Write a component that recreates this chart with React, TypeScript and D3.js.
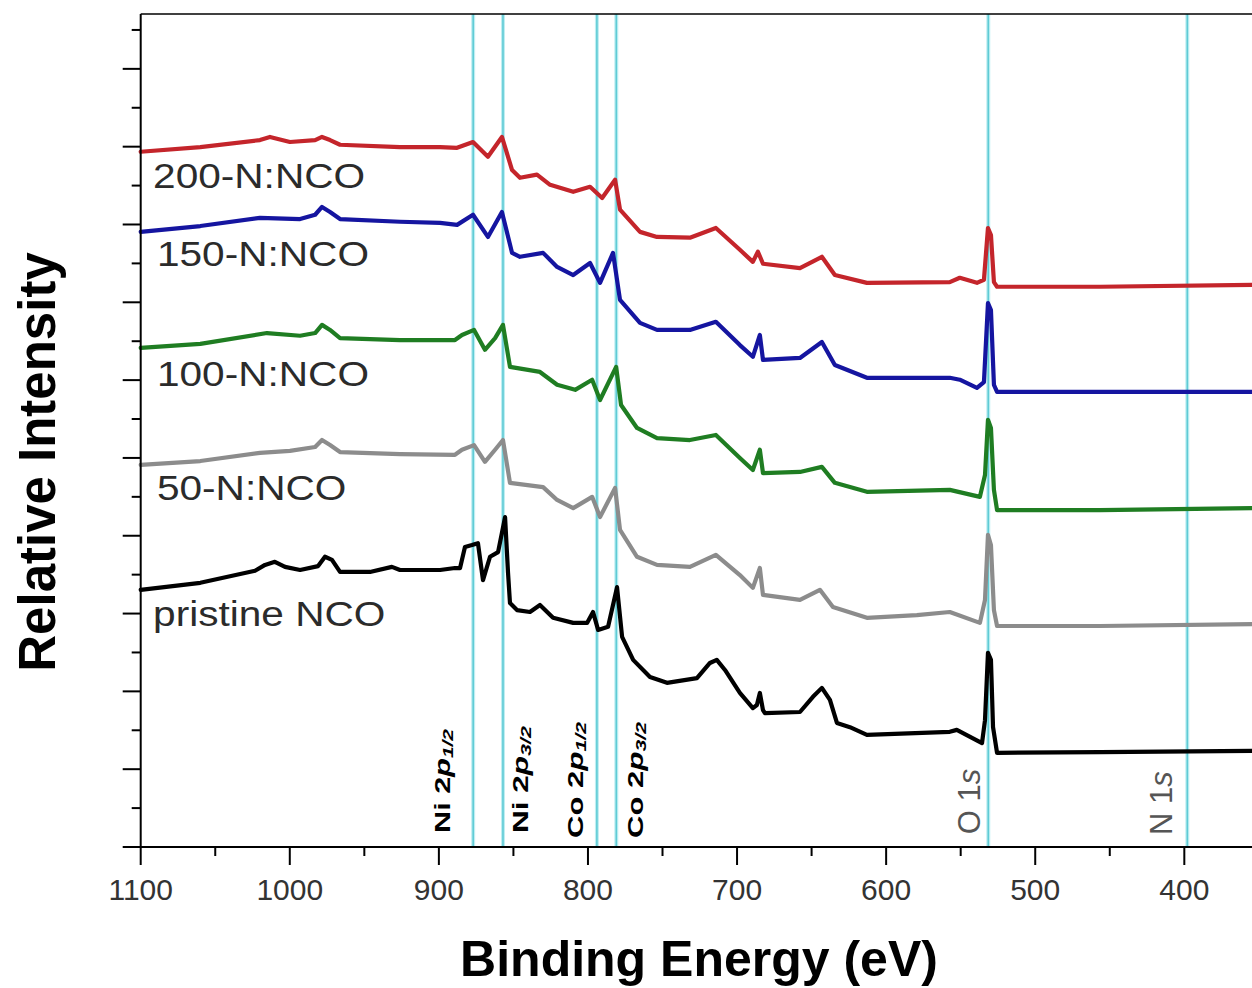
import React from 'react';
import * as d3 from 'd3';

// ---------- data ----------
const xMajorTicks = [1100, 1000, 900, 800, 700, 600, 500, 400];
const xMinorTicks = [1050, 950, 850, 750, 650, 550, 450];
const yTickValues = [0, 1, 2, 3, 4, 5, 6, 7, 8, 9, 10, 11, 12, 13, 14, 15, 16, 17, 18, 19, 20, 21];

const seriesNames = ['pristine NCO', '50-N:NCO', '100-N:NCO', '150-N:NCO', '200-N:NCO'];

const pristine: [number, number][] = [
  [1100, 6.61], [1060, 6.79], [1023.3, 7.1], [1016.6, 7.25], [1010, 7.33], [1003.2, 7.2], [993.1, 7.12],
  [981, 7.22], [976.4, 7.46], [971.7, 7.38], [966.3, 7.07], [946.2, 7.07], [931.5, 7.2], [926.1, 7.12],
  [899.2, 7.12], [889.2, 7.17], [885.8, 7.17], [882.5, 7.71], [877.8, 7.76], [873.8, 7.81], [870.4, 6.86],
  [865.7, 7.46], [860.3, 7.58], [855.6, 8.48], [853.6, 7.04], [852.3, 6.27], [847.6, 6.09], [838.9, 6.04],
  [832.2, 6.22], [823.4, 5.89], [809.9, 5.76], [800.6, 5.76], [796.6, 6.04], [793.2, 5.58], [786.5, 5.66],
  [780.5, 6.68], [777.1, 5.4], [769.7, 4.81], [758.4, 4.37], [747, 4.22], [726.9, 4.34], [718.2, 4.73],
  [713.6, 4.81], [708.1, 4.55], [698.1, 3.96], [689.4, 3.57], [686.7, 3.65], [684.7, 3.96], [682.6, 3.52],
  [681.3, 3.44], [657.8, 3.47], [649.1, 3.86], [643.1, 4.09], [637.7, 3.78], [633, 3.19], [624.3, 3.08],
  [612.9, 2.88], [557.3, 2.96], [552.6, 3.01], [535.7, 2.67], [533.7, 3.26], [531.7, 4.99], [529.7, 4.81],
  [528.3, 3.08], [525.6, 2.42], [456.6, 2.44], [354.6, 2.47],
];

const n50: [number, number][] = [
  [1100, 9.82], [1060, 9.92], [1020, 10.13], [999.9, 10.18], [983, 10.28], [978.4, 10.46], [973, 10.33],
  [966.3, 10.15], [926.1, 10.1], [889.2, 10.08], [884.5, 10.21], [876.4, 10.33], [869.1, 9.9], [862.3, 10.21],
  [857, 10.46], [852.3, 9.36], [830.1, 9.25], [820.7, 8.92], [809.9, 8.71], [797.2, 9.0], [791.9, 8.48],
  [781.8, 9.23], [778.5, 8.15], [767.1, 7.46], [753.7, 7.25], [731.6, 7.2], [714.2, 7.51], [698.1, 6.99],
  [689.4, 6.66], [684.7, 7.17], [682.6, 6.48], [657.8, 6.35], [644.4, 6.61], [635.7, 6.17], [612.9, 5.89],
  [579.4, 5.96], [557.3, 6.04], [537.1, 5.76], [533.7, 6.35], [531.7, 8.02], [529.7, 7.76], [527.7, 6.09],
  [525.6, 5.68], [456.6, 5.68], [354.6, 5.73],
];

const n100: [number, number][] = [
  [1100, 12.83], [1060, 12.93], [1015.3, 13.21], [993.1, 13.14], [983, 13.21], [978.4, 13.42], [973, 13.29],
  [966.3, 13.08], [926.1, 13.03], [889.2, 13.03], [884.5, 13.16], [876.4, 13.29], [869.1, 12.78], [862.3, 13.08],
  [857, 13.42], [852.3, 12.34], [832.2, 12.21], [820.7, 11.88], [808.6, 11.75], [797.2, 12.01], [791.9, 11.49],
  [781.1, 12.34], [777.8, 11.36], [767.1, 10.77], [753.7, 10.51], [731.6, 10.46], [714.2, 10.59], [698.1, 10.0],
  [689.4, 9.69], [684.7, 10.21], [682.6, 9.61], [657.8, 9.64], [643.1, 9.77], [634.4, 9.36], [612.9, 9.13],
  [557.3, 9.18], [537.1, 9.0], [533.7, 9.56], [531.7, 10.98], [529.7, 10.77], [527.7, 9.18], [525.6, 8.66],
  [456.6, 8.66], [354.6, 8.71],
];

const n150: [number, number][] = [
  [1100, 15.81], [1060, 15.96], [1020, 16.17], [993.1, 16.14], [983, 16.25], [978.4, 16.45], [973, 16.32],
  [966.3, 16.14], [926.1, 16.07], [899.2, 16.04], [887.8, 15.99], [877.1, 16.25], [867.1, 15.68], [857.7, 16.32],
  [850.9, 15.27], [845.6, 15.17], [830.1, 15.27], [820.7, 14.91], [809.9, 14.7], [798.6, 15.01], [791.9, 14.5],
  [783.2, 15.27], [778.5, 14.06], [765.1, 13.47], [753.7, 13.29], [731.6, 13.29], [714.2, 13.5], [698.1, 12.9],
  [689.4, 12.6], [684.7, 13.16], [682.6, 12.52], [657.8, 12.57], [643.1, 12.98], [634.4, 12.39], [612.9, 12.06],
  [557.3, 12.06], [550.6, 12.01], [539.1, 11.8], [534.4, 11.95], [531.7, 13.98], [529.7, 13.8], [527.7, 11.88],
  [525.6, 11.7], [456.6, 11.7], [354.6, 11.7],
];

const n200: [number, number][] = [
  [1100, 17.87], [1060, 17.99], [1020, 18.17], [1013.3, 18.25], [999.9, 18.12], [983, 18.17], [978.4, 18.25],
  [973, 18.17], [966.3, 18.05], [926.1, 17.99], [899.2, 17.99], [887.8, 17.97], [877.1, 18.12], [867.1, 17.74],
  [857.7, 18.25], [850.9, 17.4], [845.6, 17.2], [834.2, 17.28], [825.4, 17.02], [809.9, 16.84], [798.6, 16.97],
  [790.5, 16.68], [781.8, 17.15], [778.5, 16.38], [765.1, 15.81], [753.7, 15.68], [731.6, 15.66], [714.2, 15.91],
  [698.1, 15.35], [689.4, 15.04], [686, 15.3], [682.6, 14.99], [657.8, 14.88], [643.1, 15.17], [634.4, 14.7],
  [612.9, 14.5], [557.3, 14.52], [550.6, 14.63], [539.1, 14.5], [534.4, 14.58], [531.7, 15.91], [529.7, 15.73],
  [527.7, 14.52], [525.6, 14.4], [456.6, 14.4], [354.6, 14.45],
];

const seriesData = [pristine, n50, n100, n150, n200];

// label anchors (binding energy, intensity of text baseline)
const seriesLabelE = [1091.7, 1089.1, 1089.1, 1089.1, 1091.7];
const seriesLabelI = [5.68, 8.92, 11.85, 14.94, 16.94];

const peakEnergies = [877, 857, 794, 781, 531.5, 398];

// ---------- styles ----------
const seriesColors = ['#000000', '#8c8c8c', '#1f7d22', '#1515a0', '#c4252b'];
const FONT = "'Liberation Sans', Arial, Helvetica, sans-serif";

export default function App() {
  const W = 1252;
  const H = 988;
  const x = d3.scaleLinear().domain([1100, 354.6]).range([140.7, 1252]);
  const y = d3.scaleLinear().domain([0, 21.41]).range([847, 14]);
  const line = d3
    .line<[number, number]>()
    .x((d) => x(d[0]))
    .y((d) => y(d[1]));

  const x0 = x(1100);
  const yBottom = y(0);
  const yTop = y(21.41);

  const peakLabel = (
    e: number,
    i: number,
    main: string,
    sub: string,
    len: number,
    key: string
  ) => (
    <text
      key={key}
      transform={`translate(${x(e)},${y(i)}) rotate(-90)`}
      fontFamily={FONT}
      fontWeight="bold"
      fontSize={22}
      fill="#000"
      textLength={len}
      lengthAdjust="spacingAndGlyphs"
    >
      {main}
      <tspan fontStyle="italic">p</tspan>
      <tspan fontStyle="italic" fontSize={15} dy={3}>
        {sub}
      </tspan>
    </text>
  );

  return (
    <svg
      width={W}
      height={H}
      style={{ position: 'absolute', left: 0, top: 0, background: '#fff' }}
    >
      <rect x={0} y={0} width={W} height={H} fill="#fff" />

      {/* peak reference lines */}
      {peakEnergies.map((e, k) => (
        <g key={`pl${k}`}>
          <line x1={x(e)} x2={x(e)} y1={yTop} y2={yBottom} stroke="#bfeef2" strokeWidth={4} />
          <line x1={x(e)} x2={x(e)} y1={yTop} y2={yBottom} stroke="#5fcbd5" strokeWidth={1.6} />
        </g>
      ))}

      {/* spectra */}
      {seriesData.map((d, k) => (
        <path
          key={`s${k}`}
          d={line(d) || ''}
          fill="none"
          stroke={seriesColors[k]}
          strokeWidth={4.2}
          strokeLinejoin="round"
          strokeLinecap="round"
        />
      ))}

      {/* series labels */}
      {seriesNames.map((name, k) => (
        <text
          key={`lab${k}`}
          transform={`translate(${x(seriesLabelE[k])},${y(seriesLabelI[k])}) scale(1.16,1)`}
          fontFamily={FONT}
          fontSize={35}
          fill="#2b2b2b"
        >
          {name}
        </text>
      ))}

      {/* peak labels */}
      {peakLabel(892.5, 0.36, 'Ni 2', '1/2', 104, 'ni1')}
      {peakLabel(840.2, 0.36, 'Ni 2', '3/2', 107, 'ni3')}
      {peakLabel(803.3, 0.23, 'Co 2', '1/2', 116, 'co1')}
      {peakLabel(763, 0.23, 'Co 2', '3/2', 116, 'co3')}
      <text
        transform={`translate(${x(537)},${y(0.33)}) rotate(-90)`}
        fontFamily={FONT}
        fontSize={31}
        fill="#555"
      >
        O 1<tspan fontStyle="italic">s</tspan>
      </text>
      <text
        transform={`translate(${x(408.2)},${y(0.31)}) rotate(-90)`}
        fontFamily={FONT}
        fontSize={31}
        fill="#555"
      >
        N 1<tspan fontStyle="italic">s</tspan>
      </text>

      {/* frame top */}
      <line x1={x0} x2={W} y1={yTop} y2={yTop} stroke="#000" strokeWidth={1.6} />

      {/* y axis */}
      <line x1={x0} x2={x0} y1={yTop} y2={yBottom} stroke="#000" strokeWidth={2} />
      {yTickValues.map((v) => (
        <line
          key={`yt${v}`}
          x1={x0 - (v % 2 === 0 ? 18 : 9)}
          x2={x0}
          y1={y(v)}
          y2={y(v)}
          stroke="#000"
          strokeWidth={2}
        />
      ))}

      {/* x axis */}
      <line x1={x0} x2={W} y1={yBottom} y2={yBottom} stroke="#000" strokeWidth={2} />
      {xMajorTicks.map((v) => (
        <g key={`xt${v}`}>
          <line x1={x(v)} x2={x(v)} y1={yBottom} y2={yBottom + 18} stroke="#000" strokeWidth={2} />
          <text
            x={x(v)}
            y={900}
            textAnchor="middle"
            fontFamily={FONT}
            fontSize={30}
            fill="#333"
          >
            {v}
          </text>
        </g>
      ))}
      {xMinorTicks.map((v) => (
        <line key={`xm${v}`} x1={x(v)} x2={x(v)} y1={yBottom} y2={yBottom + 9} stroke="#000" strokeWidth={2} />
      ))}

      {/* axis titles */}
      <text
        x={699}
        y={976}
        textAnchor="middle"
        fontFamily={FONT}
        fontWeight="bold"
        fontSize={50}
        fill="#000"
      >
        Binding Energy (eV)
      </text>
      <text
        transform={`translate(55,462) rotate(-90)`}
        textAnchor="middle"
        fontFamily={FONT}
        fontWeight="bold"
        fontSize={51}
        fill="#000"
      >
        Relative Intensity
      </text>
    </svg>
  );
}
